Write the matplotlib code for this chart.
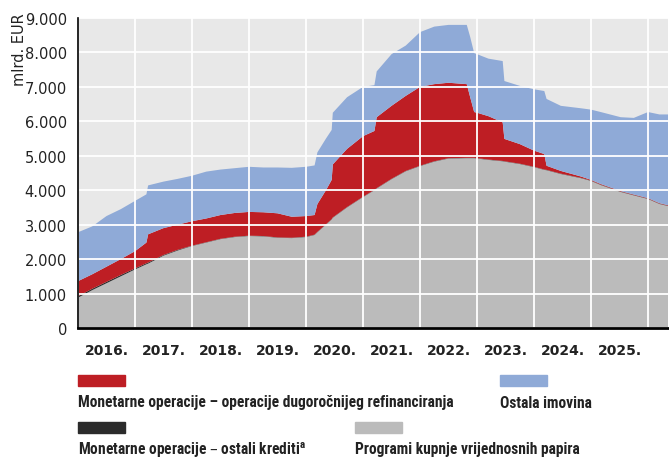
import numpy as np
import matplotlib
matplotlib.use("Agg")
import matplotlib.pyplot as plt
from matplotlib.patches import Rectangle
from matplotlib import font_manager

# time points (decimal years) shared by all series
years = [2016.0, 2016.25, 2016.5, 2016.75, 2017.0, 2017.2, 2017.23, 2017.5, 2017.75,
         2018.0, 2018.25, 2018.5, 2018.75, 2019.0, 2019.25, 2019.5, 2019.75, 2020.0,
         2020.15, 2020.2, 2020.35, 2020.45, 2020.47, 2020.72, 2021.0, 2021.2, 2021.24,
         2021.5, 2021.75, 2022.0, 2022.25, 2022.5, 2022.82, 2022.88, 2022.95, 2023.0,
         2023.2, 2023.45, 2023.48, 2023.75, 2024.0, 2024.18, 2024.22, 2024.47, 2024.82,
         2025.0, 2025.17, 2025.52, 2025.75, 2026.0, 2026.2, 2026.35]

# mlrd. EUR
app = [880, 1100, 1300, 1500, 1700, 1850, 1870, 2100, 2250,
       2380, 2480, 2580, 2640, 2670, 2660, 2620, 2610, 2640,
       2700, 2780, 3000, 3150, 3200, 3500, 3800, 4000, 4050,
       4320, 4550, 4700, 4830, 4920, 4930, 4930, 4930, 4920,
       4880, 4840, 4830, 4760, 4670, 4590, 4580, 4470, 4350,
       4270, 4150, 3950, 3850, 3745, 3600, 3540]
other_credit = [40, 40, 40, 40, 30, 30, 30, 20, 20,
                10, 10, 10, 10, 10, 10, 10, 10, 10,
                10, 10, 10, 10, 10, 10, 10, 10, 10,
                10, 10, 10, 10, 10, 10, 10, 10, 10,
                10, 10, 10, 10, 10, 10, 10, 10, 10,
                10, 10, 10, 10, 10, 10, 10]
ltro = [440, 420, 440, 460, 500, 600, 820, 780, 730,
        710, 690, 690, 690, 690, 690, 700, 610, 600,
        570, 810, 990, 1140, 1540, 1690, 1760, 1710, 2060,
        2120, 2180, 2290, 2240, 2190, 2140, 1760, 1330, 1320,
        1260, 1120, 650, 570, 470, 450, 120, 80, 40,
        20, 20, 15, 15, 15, 15, 15]
other_assets = [1420, 1390, 1470, 1450, 1460, 1400, 1420, 1350, 1330,
                1320, 1360, 1320, 1300, 1310, 1300, 1330, 1420, 1430,
                1440, 1500, 1500, 1450, 1500, 1500, 1430, 1330, 1330,
                1500, 1460, 1590, 1670, 1680, 1720, 1750, 1710, 1700,
                1670, 1780, 1680, 1690, 1780, 1830, 1940, 1890, 1980,
                2040, 2090, 2145, 2225, 2500, 2575, 2635]

year_labels = ['2016.', '2017.', '2018.', '2019.', '2020.',
               '2021.', '2022.', '2023.', '2024.', '2025.']
legend_labels = ['Monetarne operacije – operacije dugoročnijeg refinanciranja',
                 'Ostala imovina',
                 'Monetarne operacije – ostali krediti$^{\\mathregular{a}}$',
                 'Programi kupnje vrijednosnih papira']

c_grey = '#BBBBBB'
c_black = '#2B2B2B'
c_red = '#BE1E24'
c_blue = '#8FAAD7'

# pick a narrow bold face for the legend if one is installed
installed = set(f.name for f in font_manager.fontManager.ttflist)
leg_family, leg_size = 'DejaVu Sans', 7.8
for fam, size in [('Roboto Condensed', 11.2), ('Liberation Sans Narrow', 11),
                  ('Asap Condensed', 11), ('Barlow Semi Condensed', 10.5),
                  ('Roboto', 9.5)]:
    if fam in installed:
        leg_family, leg_size = fam, size
        break

fig = plt.figure(figsize=(6.69, 4.60), dpi=100)
ax = fig.add_axes([78 / 669, 1 - 329 / 460, 590 / 669, 310 / 460])
ax.set_facecolor('#E8E8E8')

ax.stackplot(years, app, other_credit, ltro, other_assets,
             colors=[c_grey, c_black, c_red, c_blue], linewidth=0)

ax.set_xlim(2016.0, 2026.35)
ax.set_ylim(0, 9000)
ax.set_yticks(np.arange(0, 9001, 1000))
ax.set_yticklabels(['0'] + ['{:d}.000'.format(i) for i in range(1, 10)],
                   fontsize=10.5, color='#222222')
ax.set_xticks(np.arange(2016, 2027))
ax.set_xticklabels([])
ax.tick_params(length=0, pad=8)
ax.grid(True, color='white', linewidth=1.3)
for gl in ax.get_xgridlines() + ax.get_ygridlines():
    gl.set_zorder(3)
for s in ['top', 'right']:
    ax.spines[s].set_visible(False)
ax.spines['left'].set_linewidth(1.2)
ax.spines['bottom'].set_linewidth(2)
ax.spines['left'].set_zorder(4)
ax.spines['bottom'].set_zorder(4)

for i, lab in enumerate(year_labels):
    ax.text(2016.5 + i, -0.07, lab, transform=ax.get_xaxis_transform(),
            ha='center', va='center', fontsize=10, fontweight='semibold', color='#222222')

fig.text(20 / 669, 1 - 50 / 460, 'mlrd. EUR', rotation=90, ha='center', va='center',
         fontsize=10.5, color='#222222')

# legend drawn by hand
leg_font = dict(family=[leg_family, 'DejaVu Sans'], fontweight='bold',
                fontsize=leg_size, color='#222222')
entries = [(78, 376, c_red, legend_labels[0]),
           (500, 376, c_blue, legend_labels[1]),
           (78, 423, c_black, legend_labels[2]),
           (355, 423, c_grey, legend_labels[3])]
for x0, y0, col, lab in entries:
    fig.patches.append(Rectangle((x0 / 669, 1 - (y0 + 11) / 460), 47 / 669, 11 / 460,
                                 transform=fig.transFigure, color=col))
    fig.text(x0 / 669, 1 - (y0 + 27) / 460, lab, ha='left', va='center', **leg_font)

fig.savefig('out.png', dpi=100)
